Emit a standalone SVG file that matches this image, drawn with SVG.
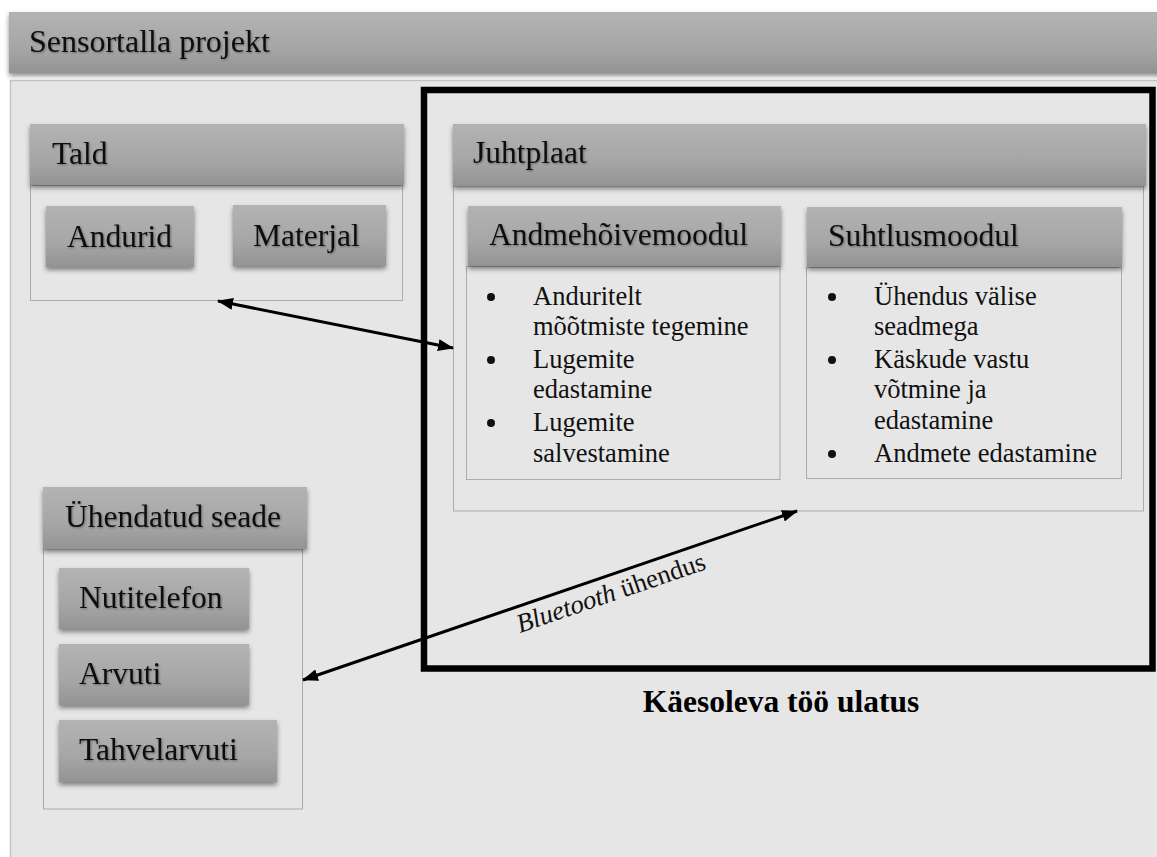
<svg xmlns="http://www.w3.org/2000/svg" width="1157" height="857" viewBox="0 0 1157 857">
  <defs>
    <linearGradient id="barFill" x1="0" y1="0" x2="0" y2="1">
      <stop offset="0" stop-color="#b3b3b3"/>
      <stop offset="0.6" stop-color="#a6a6a6"/>
      <stop offset="1" stop-color="#939393"/>
    </linearGradient>
    <filter id="boxShadow" x="-10%" y="-20%" width="120%" height="150%">
      <feDropShadow dx="0" dy="3" stdDeviation="2.5" flood-color="#000" flood-opacity="0.45"/>
    </filter>
    <filter id="textShadow" x="-5%" y="-20%" width="110%" height="140%">
      <feDropShadow dx="1" dy="1" stdDeviation="1" flood-color="#000" flood-opacity="0.35"/>
    </filter>
    <marker id="arrowHead" viewBox="0 0 16 12" refX="15" refY="6" markerWidth="16" markerHeight="12" markerUnits="userSpaceOnUse" orient="auto-start-reverse">
      <path d="M0,0 L16,6 L0,12 z" fill="#000"/>
    </marker>
    <style>
      .bar { fill: url(#barFill); filter: url(#boxShadow); }
      .body { fill: #e6e6e6; stroke: #ababab; stroke-width: 1; }
      .label { font-family: "Liberation Serif", "Times New Roman", serif; font-size: 31.5px; fill: #111; filter: url(#textShadow); }
      .item { font-family: "Liberation Serif", "Times New Roman", serif; font-size: 26.5px; fill: #111; }
      .dot { fill: #111; }
      .link { stroke: #000; stroke-width: 3; fill: none; marker-start: url(#arrowHead); marker-end: url(#arrowHead); }
    </style>
  </defs>

  <rect width="1157" height="857" fill="#ffffff"/>

  <!-- project panel -->
  <g id="project">
    <rect x="10.5" y="80.5" width="1160" height="800" fill="#e6e6e6" stroke="#c6c6c6" stroke-width="1.5"/>
    <rect class="bar" x="9" y="12" width="1160" height="61"/>
    <text class="label" x="29" y="52" style="font-size:32px">Sensortalla projekt</text>
  </g>

  <!-- sole -->
  <g id="tald">
    <rect class="body" x="30.5" y="185.5" width="372" height="115"/>
    <rect class="bar" x="30" y="124" width="374" height="61"/>
    <text class="label" x="52" y="164">Tald</text>
  </g>
  <g id="andurid">
    <rect class="bar" x="46" y="206" width="148" height="61"/>
    <text class="label" x="67" y="247">Andurid</text>
  </g>
  <g id="materjal">
    <rect class="bar" x="233" y="205" width="153" height="61"/>
    <text class="label" x="253" y="246">Materjal</text>
  </g>

  <!-- control board -->
  <g id="juhtplaat">
    <rect class="body" x="453.5" y="186" width="690" height="325"/>
    <rect class="bar" x="453" y="124" width="693" height="62"/>
    <text class="label" x="473" y="163">Juhtplaat</text>
  </g>
  <g id="andmehoivemoodul">
    <rect class="body" x="466.5" y="266.5" width="313.5" height="213"/>
    <rect class="bar" x="468" y="206" width="313" height="60"/>
    <text class="label" x="489" y="245">Andmehõivemoodul</text>
    <circle class="dot" cx="491" cy="297" r="4"/>
    <circle class="dot" cx="491" cy="360" r="4"/>
    <circle class="dot" cx="491" cy="423" r="4"/>
    <text class="item" x="533" y="305">Anduritelt</text>
    <text class="item" x="533" y="335">mõõtmiste tegemine</text>
    <text class="item" x="533" y="368">Lugemite</text>
    <text class="item" x="533" y="398">edastamine</text>
    <text class="item" x="533" y="431">Lugemite</text>
    <text class="item" x="533" y="462">salvestamine</text>
  </g>
  <g id="suhtlusmoodul">
    <rect class="body" x="806.5" y="267.5" width="315" height="211"/>
    <rect class="bar" x="807" y="207" width="315" height="60"/>
    <text class="label" x="828" y="246">Suhtlusmoodul</text>
    <circle class="dot" cx="832" cy="297" r="4"/>
    <circle class="dot" cx="832" cy="360" r="4"/>
    <circle class="dot" cx="832" cy="454" r="4"/>
    <text class="item" x="874" y="305">Ühendus välise</text>
    <text class="item" x="874" y="335">seadmega</text>
    <text class="item" x="874" y="368">Käskude vastu</text>
    <text class="item" x="874" y="398">võtmine ja</text>
    <text class="item" x="874" y="429">edastamine</text>
    <text class="item" x="874" y="462">Andmete edastamine</text>
  </g>

  <!-- scope of this work -->
  <g id="ulatus">
    <rect x="424" y="90" width="728.5" height="578.5" fill="none" stroke="#000" stroke-width="6.5"/>
    <text x="781" y="712" text-anchor="middle" style="font-family:'Liberation Serif','Times New Roman',serif;font-size:31.5px;font-weight:bold;fill:#000">Käesoleva töö ulatus</text>
  </g>

  <!-- connected device -->
  <g id="uhendatud-seade">
    <rect class="body" x="43.5" y="549" width="259" height="260"/>
    <rect class="bar" x="43" y="487" width="264" height="62"/>
    <text class="label" x="65" y="527">Ühendatud seade</text>
  </g>
  <g id="nutitelefon">
    <rect class="bar" x="59" y="568" width="190" height="61"/>
    <text class="label" x="79" y="608">Nutitelefon</text>
  </g>
  <g id="arvuti">
    <rect class="bar" x="59" y="644" width="190" height="61"/>
    <text class="label" x="79" y="684">Arvuti</text>
  </g>
  <g id="tahvelarvuti">
    <rect class="bar" x="59" y="720" width="218" height="62"/>
    <text class="label" x="79" y="760">Tahvelarvuti</text>
  </g>

  <!-- connectors -->
  <g id="connectors">
    <line class="link" x1="218" y1="301" x2="453" y2="348"/>
    <line class="link" x1="303" y1="680" x2="797" y2="511"/>
    <text transform="translate(520,633) rotate(-18.9)" style="font-family:'Liberation Serif','Times New Roman',serif;font-size:26.5px;fill:#111"><tspan font-style="italic">Bluetooth</tspan> ühendus</text>
  </g>
</svg>
